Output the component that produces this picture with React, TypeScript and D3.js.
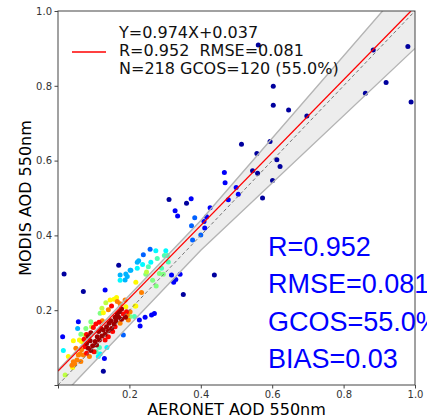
import { useEffect, useRef } from "react";
import * as d3 from "d3";

const width = 427;
const height = 420;
const plot = { left: 58, right: 415, top: 11, bottom: 385 };

const tickValues = [0, 0.2, 0.4, 0.6, 0.8, 1.0];
const legendLines = ["Y=0.974X+0.037", "R=0.952  RMSE=0.081", "N=218 GCOS=120 (55.0%)"];
const statLines = ["R=0.952", "RMSE=0.081", "GCOS=55.0%", "BIAS=0.03"];
const fitSlope = 0.974;
const fitIntercept = 0.037;
// GCOS envelope: +-max(0.04, 10%)
const envelopeX = [0, 0.4, 1];

// [AERONET, MODIS] pairs, grouped by point density level
const darkBluePts = [
  [0.561, 0.909], [0.603, 0.799], [0.603, 0.748], [0.646, 0.735], [0.697, 0.719],
  [0.883, 0.896], [0.98, 0.905], [0.919, 0.809], [0.861, 0.78], [0.989, 0.757],
  [0.514, 0.644], [0.594, 0.651], [0.557, 0.619], [0.613, 0.602], [0.622, 0.584],
  [0.545, 0.573], [0.559, 0.566], [0.601, 0.547], [0.573, 0.5], [0.311, 0.496],
  [0.36, 0.486], [0.438, 0.294], [0.351, 0.242], [0.017, 0.297], [0.071, 0.25],
  [0.17, 0.32], [0.127, 0.037],
];
const bluePts = [
  [0.466, 0.568], [0.468, 0.541], [0.499, 0.528], [0.505, 0.51], [0.477, 0.495],
  [0.373, 0.498], [0.328, 0.466], [0.335, 0.452], [0.426, 0.474], [0.416, 0.45],
  [0.409, 0.437], [0.411, 0.42], [0.342, 0.296], [0.33, 0.282], [0.324, 0.275],
  [0.318, 0.294], [0.27, 0.191], [0.262, 0.187], [0.244, 0.181], [0.228, 0.174],
  [0.23, 0.158], [0.132, 0.254], [0.013, 0.129], [0.13, 0.071], [0.057, 0.169],
];
const midBluePts = [
  [0.383, 0.447], [0.374, 0.426], [0.4, 0.401], [0.377, 0.388], [0.183, 0.134],
  [0.239, 0.348], [0.258, 0.363],
];
const lightBluePts = [
  [0.226, 0.332], [0.222, 0.328], [0.204, 0.307], [0.19, 0.297], [0.194, 0.29],
  [0.202, 0.307], [0.188, 0.281], [0.174, 0.294], [0.055, 0.151],
];
const cyanPts = [
  [0.274, 0.359], [0.302, 0.359], [0.26, 0.328], [0.237, 0.322], [0.222, 0.312],
  [0.015, 0.092], [0.174, 0.28], [0.113, 0.076], [0.118, 0.083], [0.137, 0.1],
];
const cyanGreenPts = [
  [0.298, 0.346], [0.306, 0.346], [0.278, 0.338], [0.309, 0.329], [0.253, 0.316],
  [0.29, 0.312], [0.214, 0.183], [0.116, 0.1], [0.107, 0.089],
];
const greenPts = [
  [0.246, 0.296], [0.284, 0.298], [0.295, 0.296], [0.275, 0.265], [0.092, 0.169],
  [0.078, 0.151], [0.064, 0.136], [0.118, 0.192], [0.202, 0.183], [0.265, 0.28],
];
const yellowGreenPts = [
  [0.248, 0.302], [0.094, 0.156], [0.076, 0.134], [0.02, 0.027], [0.134, 0.22],
  [0.123, 0.205],
];
const yellowPts = [
  [0.218, 0.275], [0.218, 0.211], [0.06, 0.12], [0.066, 0.116], [0.043, 0.118],
  [0.029, 0.076], [0.041, 0.047], [0.164, 0.234], [0.146, 0.227], [0.127, 0.193],
  [0.19, 0.209], [0.216, 0.211], [0.157, 0.229],
];
const orangePts = [
  [0.234, 0.247], [0.043, 0.062], [0.047, 0.056], [0.053, 0.067], [0.064, 0.063],
  [0.039, 0.053], [0.062, 0.083], [0.057, 0.08], [0.071, 0.08], [0.05, 0.098],
  [0.088, 0.076], [0.174, 0.217], [0.166, 0.223], [0.141, 0.201], [0.188, 0.227],
  [0.202, 0.196], [0.197, 0.174], [0.194, 0.187], [0.174, 0.165], [0.124, 0.172],
  [0.066, 0.094],
];
const redPts = [
  [0.099, 0.154], [0.106, 0.163], [0.115, 0.168], [0.08, 0.135], [0.073, 0.122],
  [0.076, 0.102], [0.101, 0.089], [0.132, 0.12], [0.141, 0.129], [0.153, 0.143],
  [0.16, 0.156], [0.192, 0.196], [0.08, 0.085], [0.15, 0.211], [0.183, 0.19],
];
const darkRedPts = [
  [0.08, 0.111], [0.085, 0.098], [0.092, 0.092], [0.097, 0.105], [0.09, 0.118],
  [0.085, 0.129], [0.104, 0.116], [0.11, 0.129], [0.114, 0.143], [0.12, 0.151],
  [0.127, 0.147], [0.132, 0.136], [0.123, 0.131], [0.116, 0.12], [0.108, 0.107],
  [0.136, 0.156], [0.143, 0.165], [0.148, 0.172], [0.141, 0.145], [0.15, 0.151],
  [0.16, 0.181], [0.166, 0.19], [0.172, 0.196], [0.178, 0.203], [0.17, 0.181],
  [0.162, 0.172], [0.157, 0.163], [0.189, 0.181], [0.178, 0.176], [0.092, 0.14],
];

const densityGroups = [
  { pts: darkBluePts, density: 0.03 },
  { pts: bluePts, density: 0.12 },
  { pts: midBluePts, density: 0.22 },
  { pts: lightBluePts, density: 0.3 },
  { pts: cyanPts, density: 0.37 },
  { pts: cyanGreenPts, density: 0.45 },
  { pts: greenPts, density: 0.5 },
  { pts: yellowGreenPts, density: 0.56 },
  { pts: yellowPts, density: 0.63 },
  { pts: orangePts, density: 0.75 },
  { pts: redPts, density: 0.87 },
  { pts: darkRedPts, density: 0.97 },
];

const jet = d3
  .scaleLinear<string>()
  .domain([0, 0.125, 0.375, 0.625, 0.875, 1])
  .range(["#00007f", "#0000ff", "#00ffff", "#ffff00", "#ff0000", "#7f0000"]);

const App = () => {
  const svgRef = useRef<SVGSVGElement>(null);

  useEffect(() => {
    const svg = d3.select(svgRef.current);
    svg.selectAll("*").remove();

    const x = d3.scaleLinear().domain([0, 1]).range([plot.left, plot.right]);
    const y = d3.scaleLinear().domain([0, 1]).range([plot.bottom, plot.top]);
    const env = (v: number) => Math.max(0.04, 0.1 * v);

    svg
      .append("clipPath")
      .attr("id", "plot-clip")
      .append("rect")
      .attr("x", plot.left)
      .attr("y", plot.top)
      .attr("width", plot.right - plot.left)
      .attr("height", plot.bottom - plot.top);

    const g = svg.append("g").attr("clip-path", "url(#plot-clip)");

    const band = d3
      .area<number>()
      .x((d) => x(d))
      .y0((d) => y(d - env(d)))
      .y1((d) => y(d + env(d)));
    g.append("path").attr("d", band(envelopeX)).attr("fill", "#ededed");

    const dots = densityGroups.flatMap((grp) =>
      grp.pts.map((p) => ({ x: p[0], y: p[1], d: grp.density }))
    );
    g.selectAll(".dot")
      .data(dots)
      .join("circle")
      .attr("class", "dot")
      .attr("cx", (d) => x(d.x))
      .attr("cy", (d) => y(d.y))
      .attr("r", 2.5)
      .attr("fill", (d) => jet(d.d));

    const edge = d3
      .line<number>()
      .x((d) => x(d))
      .y((d) => y(d));
    const upper = d3
      .line<number>()
      .x((d) => x(d))
      .y((d) => y(d + env(d)));
    const lower = d3
      .line<number>()
      .x((d) => x(d))
      .y((d) => y(d - env(d)));
    g.append("path").attr("d", upper(envelopeX)).attr("fill", "none").attr("stroke", "#b4b4b4").attr("stroke-width", 1.4);
    g.append("path").attr("d", lower(envelopeX)).attr("fill", "none").attr("stroke", "#b4b4b4").attr("stroke-width", 1.4);
    g.append("path")
      .attr("d", edge([0, 1]))
      .attr("fill", "none")
      .attr("stroke", "#777")
      .attr("stroke-width", 1)
      .attr("stroke-dasharray", "3.5,2.5");

    const fit = d3
      .line<number>()
      .x((d) => x(d))
      .y((d) => y(fitSlope * d + fitIntercept));
    g.append("path")
      .attr("d", fit([0, (1 - fitIntercept) / fitSlope]))
      .attr("fill", "none")
      .attr("stroke", "#ff0000")
      .attr("stroke-width", 1.3);

    const fmt = (d: d3.NumberValue) => (+d === 0 ? "" : d3.format(".1f")(d));
    const xAxis = svg
      .append("g")
      .attr("transform", `translate(0,${plot.bottom})`)
      .call(d3.axisBottom(x).tickValues(tickValues).tickFormat(fmt).tickSize(3.5).tickPadding(2.5));
    const yAxis = svg
      .append("g")
      .attr("transform", `translate(${plot.left},0)`)
      .call(d3.axisLeft(y).tickValues(tickValues).tickFormat(fmt).tickSize(3.5).tickPadding(2.5));
    [xAxis, yAxis].forEach((a) => {
      a.select(".domain").remove();
      a.selectAll("line").attr("stroke", "#444");
      a.selectAll("text")
        .attr("fill", "#333")
        .style("font-family", "DejaVu Sans")
        .style("font-size", "10px");
    });

    svg
      .append("rect")
      .attr("x", plot.left)
      .attr("y", plot.top)
      .attr("width", plot.right - plot.left)
      .attr("height", plot.bottom - plot.top)
      .attr("fill", "none")
      .attr("stroke", "#444")
      .attr("stroke-width", 1);

    svg
      .append("text")
      .attr("x", (plot.left + plot.right) / 2)
      .attr("y", 415)
      .attr("text-anchor", "middle")
      .style("font-family", "DejaVu Sans")
      .style("font-size", "16px")
      .text("AERONET AOD 550nm");
    svg
      .append("text")
      .attr("transform", `translate(31,${(plot.top + plot.bottom) / 2}) rotate(-90)`)
      .attr("text-anchor", "middle")
      .style("font-family", "DejaVu Sans")
      .style("font-size", "16px")
      .text("MODIS AOD 550nm");

    // legend
    svg
      .append("line")
      .attr("x1", 72)
      .attr("x2", 106)
      .attr("y1", 52)
      .attr("y2", 52)
      .attr("stroke", "#ff0000")
      .attr("stroke-width", 1.3);
    svg
      .selectAll(".legend")
      .data(legendLines)
      .join("text")
      .attr("class", "legend")
      .attr("x", 119)
      .attr("y", (d, i) => 38.3 + i * 18)
      .attr("fill", "#111")
      .style("font-family", "DejaVu Sans")
      .style("font-size", "16px")
      .style("white-space", "pre")
      .text((d) => d);

    svg
      .selectAll(".stat")
      .data(statLines)
      .join("text")
      .attr("class", "stat")
      .attr("x", 268)
      .attr("y", (d, i) => 256 + i * 37.4)
      .attr("fill", "#0000ff")
      .style("font-family", "Liberation Sans")
      .style("font-size", "27px")
      .text((d) => d);
  }, []);

  return (
    <svg
      ref={svgRef}
      width={width}
      height={height}
      style={{ position: "absolute", left: 0, top: 0, background: "#fff" }}
    />
  );
};

export default App;
